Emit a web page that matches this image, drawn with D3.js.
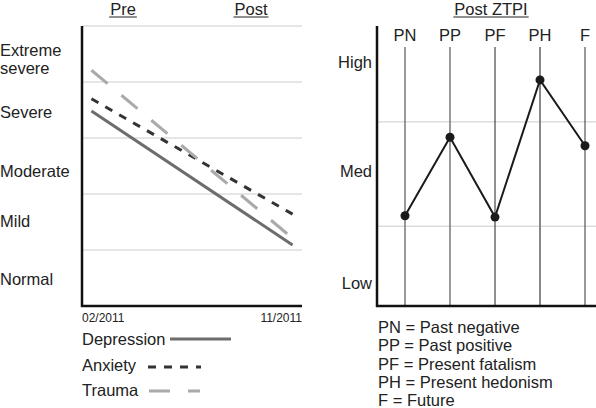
<!DOCTYPE html>
<html><head><meta charset="utf-8">
<script src="https://cdn.jsdelivr.net/npm/d3@7"></script>
<style>body{margin:0;background:#fff}svg{display:block}text{font-family:"Liberation Sans",Arial,sans-serif;fill:#222}</style>
</head><body>
<script>
// Left panel data
const timepoints = ["Pre", "Post"];
const dateLabels = ["02/2011", "11/2011"];
const severityLabels = ["Normal", "Mild", "Moderate", "Severe", "Extreme severe"];
const depression = [3.48, 1.09];
const anxiety = [3.70, 1.64];
const trauma = [4.21, 1.21];
// Right panel data
const ztpiCategories = ["PN", "PP", "PF", "PH", "F"];
const ztpiValues = [2.29, 3.41, 2.27, 4.23, 3.29];
const levelLabels = ["Low", "Med", "High"];
const levelLabelValues = [1.33, 2.93, 4.49];
const levelThresholds = [2.14, 3.63];
const ztpiLegend = ["PN = Past negative", "PP = Past positive", "PF = Present fatalism", "PH = Present hedonism", "F = Future"];

const W = 596, H = 408;
const FS = 16.5;
const HEAD_Y = 14.5;
const svg = d3.select("body").append("svg").attr("width", W).attr("height", H);

// ---------- Left panel ----------
const L = {x0: 82, x1: 302, y0: 306, y1: 26};
const xL = d3.scalePoint().domain(timepoints).range([L.x0, L.x1]).padding(0.047);
const yL = d3.scaleLinear().domain([0, 5]).range([L.y0, L.y1]);

// gridlines
svg.append("g").selectAll("line").data(d3.range(1, 6)).join("line")
  .attr("x1", L.x0).attr("x2", L.x1).attr("y1", d => yL(d)).attr("y2", d => yL(d))
  .attr("stroke", "#ccc").attr("stroke-width", 1);

// band labels (baseline offsets from band centre, layout only)
const bandOffsets = [7, 5, 11, 8, 2];
severityLabels.forEach((lab, i) => {
  const t = svg.append("text").attr("x", 0).attr("font-size", FS);
  const yb = yL(i + 0.5) + bandOffsets[i];
  if (i === 4) {
    const parts = lab.split(" ");
    t.append("tspan").attr("x", 0).attr("y", yb).text(parts[0]);
    t.append("tspan").attr("x", 0).attr("y", yb + 18).text(parts[1]);
  } else {
    t.attr("y", yb).text(lab);
  }
});

// Pre / Post headers
const headerX = [123, 251];
timepoints.forEach((tp, i) => {
  const t = svg.append("text").attr("x", headerX[i]).attr("y", HEAD_Y).attr("text-anchor", "middle")
    .attr("font-size", FS).text(tp);
  const w = t.node().getComputedTextLength();
  svg.append("line").attr("x1", headerX[i] - w / 2 - 1).attr("x2", headerX[i] + w / 2 + 1)
    .attr("y1", HEAD_Y + 2.5).attr("y2", HEAD_Y + 2.5).attr("stroke", "#222").attr("stroke-width", 1);
});

// series
const series = [
  {name: "Depression", vals: depression, color: "#6d6d6d", dash: null, width: 3},
  {name: "Anxiety", vals: anxiety, color: "#333", dash: "8,8", width: 3},
  {name: "Trauma", vals: trauma, color: "#aaa", dash: "21,18", width: 3}
];
const lineGen = d3.line().x((d, i) => xL(timepoints[i])).y(d => yL(d));
series.forEach(s => {
  svg.append("path").datum(s.vals).attr("d", lineGen).attr("fill", "none")
    .attr("stroke", s.color).attr("stroke-width", s.width)
    .attr("stroke-dasharray", s.dash);
});

// axes
svg.append("line").attr("x1", L.x0).attr("x2", L.x0).attr("y1", L.y1).attr("y2", L.y0 + 1)
  .attr("stroke", "#111").attr("stroke-width", 2.5);
svg.append("line").attr("x1", L.x0 - 1).attr("x2", L.x1).attr("y1", L.y0).attr("y2", L.y0)
  .attr("stroke", "#111").attr("stroke-width", 2.5);

// date labels
svg.append("text").attr("x", L.x0).attr("y", 322).attr("font-size", 12).text(dateLabels[0]);
svg.append("text").attr("x", L.x1).attr("y", 322).attr("font-size", 12).attr("text-anchor", "end").text(dateLabels[1]);

// legend
const legY = [345, 371, 396];
const legLineY = [339, 367, 391];
const legLine = [[170, 231], [148, 201], [149, 200]];
series.forEach((s, i) => {
  svg.append("text").attr("x", L.x0).attr("y", legY[i]).attr("font-size", FS).text(s.name);
  svg.append("line").attr("x1", legLine[i][0]).attr("x2", legLine[i][1])
    .attr("y1", legLineY[i]).attr("y2", legLineY[i]).attr("stroke", s.color)
    .attr("stroke-width", s.width).attr("stroke-dasharray", s.dash);
});

// ---------- Right panel ----------
const R = {x0: 377, x1: 596, y0: 306, y1: 26};
const xR = d3.scalePoint().domain(ztpiCategories).range([405, 585]);
const yR = d3.scaleLinear().domain([1, 5]).range([R.y0, R.y1]);

svg.append("g").selectAll("line").data(levelThresholds).join("line")
  .attr("x1", R.x0).attr("x2", R.x1).attr("y1", d => yR(d)).attr("y2", d => yR(d))
  .attr("stroke", "#ccc").attr("stroke-width", 1);

const vStyle = {PN: ["#777", 1.5], PP: ["#777", 1.5], PF: ["#222", 1], PH: ["#888", 2], F: ["#333", 1]};
svg.append("g").selectAll("line").data(ztpiCategories).join("line")
  .attr("x1", d => xR(d)).attr("x2", d => xR(d)).attr("y1", 47).attr("y2", R.y0)
  .attr("stroke", d => vStyle[d][0]).attr("stroke-width", d => vStyle[d][1]);

svg.append("g").selectAll("text").data(ztpiCategories).join("text")
  .attr("x", d => xR(d)).attr("y", 41).attr("text-anchor", "middle").attr("font-size", FS).text(d => d);

levelLabels.forEach((lab, i) => {
  svg.append("text").attr("x", 372).attr("y", yR(levelLabelValues[i]) + 6)
    .attr("text-anchor", "end").attr("font-size", FS).text(lab);
});

// title
{
  const cx = 491;
  const t = svg.append("text").attr("x", cx).attr("y", HEAD_Y).attr("text-anchor", "middle")
    .attr("font-size", FS).text("Post ZTPI");
  const w = t.node().getComputedTextLength();
  svg.append("line").attr("x1", cx - w / 2 - 1).attr("x2", cx + w / 2 + 1)
    .attr("y1", HEAD_Y + 2.5).attr("y2", HEAD_Y + 2.5).attr("stroke", "#222").attr("stroke-width", 1);
}

const lineR = d3.line().x((d, i) => xR(ztpiCategories[i])).y(d => yR(d));
svg.append("path").datum(ztpiValues).attr("d", lineR).attr("fill", "none")
  .attr("stroke", "#1a1a1a").attr("stroke-width", 2);
svg.append("g").selectAll("circle").data(ztpiValues).join("circle")
  .attr("cx", (d, i) => xR(ztpiCategories[i])).attr("cy", d => yR(d)).attr("r", 4.5)
  .attr("fill", "#1a1a1a");

svg.append("line").attr("x1", R.x0).attr("x2", R.x0).attr("y1", R.y1).attr("y2", R.y0 + 1)
  .attr("stroke", "#111").attr("stroke-width", 2.5);
svg.append("line").attr("x1", R.x0 - 1).attr("x2", R.x1).attr("y1", R.y0).attr("y2", R.y0)
  .attr("stroke", "#111").attr("stroke-width", 2.5);

ztpiLegend.forEach((s, i) => {
  svg.append("text").attr("x", 378).attr("y", 333 + i * 18.3).attr("font-size", FS).text(s);
});
</script>
</body></html>
